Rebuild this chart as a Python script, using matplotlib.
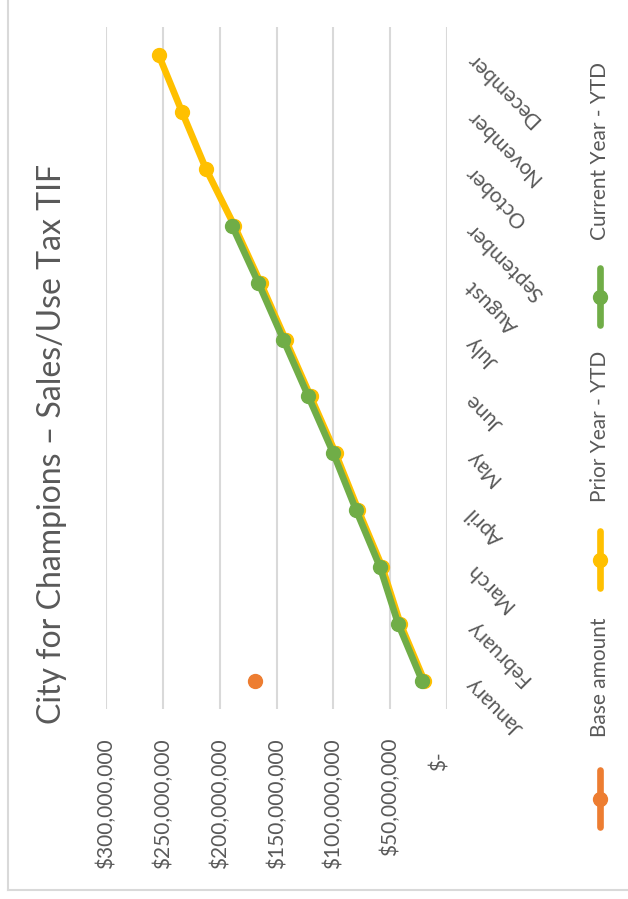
import numpy as np
import matplotlib.pyplot as plt
from matplotlib.lines import Line2D
from matplotlib.transforms import blended_transform_factory, offset_copy

plt.rcParams['font.family'] = ['Lato', 'DejaVu Sans']

# Sales/use tax collections, cumulative year to date
months = ['January', 'February', 'March', 'April', 'May', 'June', 'July',
          'August', 'September', 'October', 'November', 'December']
current_ytd = [22e6, 43e6, 59e6, 80e6, 100e6, 122e6, 144e6, 166e6, 189e6]
prior_ytd = [20e6, 41e6, 57e6, 78e6, 98e6, 120e6, 142e6, 164e6, 187e6,
             212e6, 233e6, 253.5e6]
base_month = 'January'
base_amount = 169e6

value_ticks = [0, 50e6, 100e6, 150e6, 200e6, 250e6, 300e6]
value_labels = ['$-', '$50,000,000', '$100,000,000', '$150,000,000',
                '$200,000,000', '$250,000,000', '$300,000,000']

title = 'City for Champions \u2013 Sales/Use Tax TIF'
text_color = '#595959'
grid_color = '#D9D9D9'

W, H = 628, 899
fig = plt.figure(figsize=(W / 100, H / 100), dpi=100)


def fx(x):
    return x / W


def fy(y):
    return 1 - y / H


# chart is laid out sideways: values run right-to-left, months bottom-to-top
ax = fig.add_axes([fx(106), fy(709), fx(447) - fx(106), fy(27) - fy(709)])
ax.set_xlim(300e6, 0)
ax.set_ylim(-0.5, len(months) - 0.5)
ax.set_xticks([])
ax.set_yticks([])
for s in ax.spines.values():
    s.set_visible(False)
for v in value_ticks:
    ax.axvline(v, color=grid_color, lw=1.5, zorder=0)

pos = np.arange(len(months))
series = [
    ('Base amount', [months.index(base_month)], [base_amount], '#ED7D31'),
    ('Prior Year - YTD', pos, prior_ytd, '#FFC000'),
    ('Current Year - YTD', pos[:len(current_ytd)], current_ytd, '#70AD47'),
]
for name, p, vals, col in series:
    ax.plot(vals, p, color=col, lw=4.8, marker='o', ms=10,
            solid_capstyle='round', solid_joinstyle='round', zorder=3)

# value labels below the plot, rotated
tr_x = blended_transform_factory(ax.transData, ax.transAxes)
for v, lab in zip(value_ticks, value_labels):
    dx, dy = (-7, -42) if v == 0 else (0, -29)
    ax.text(v, 0, lab, transform=offset_copy(tr_x, fig, x=dx, y=dy, units='dots'),
            rotation=90, ha='center', va='top', fontsize=15, color=text_color)

# month labels on the right, slanted
tr_y = blended_transform_factory(ax.transAxes, ax.transData)
for i, m in enumerate(months):
    ax.text(1, i, m, transform=offset_copy(tr_y, fig, x=22, y=0, units='dots'),
            rotation=135, rotation_mode='anchor', ha='right', va='center',
            fontsize=15, color=text_color)

fig.text(fx(52), fy(444), title, rotation=90, ha='center', va='center',
         fontsize=23, color=text_color)

# legend, stacked bottom-to-top
legend_slots = [(827, 737), (588, 502), (325, 240)]
for (name, p, vals, col), (mk_bottom, txt_bottom) in zip(series, legend_slots):
    x = fx(600)
    fig.add_artist(Line2D([x, x], [fy(mk_bottom), fy(mk_bottom - 57)],
                          transform=fig.transFigure, color=col, lw=4.8,
                          solid_capstyle='round'))
    fig.add_artist(Line2D([x], [fy(mk_bottom - 28.5)], transform=fig.transFigure,
                          color=col, marker='o', ms=10, lw=0))
    fig.text(x, fy(txt_bottom), name, rotation=90, ha='center', va='bottom',
             fontsize=15, color=text_color)

# chart area border
fig.add_artist(Line2D([fx(8), fx(8)], [fy(0), fy(890)], transform=fig.transFigure,
                      color=grid_color, lw=1.5))
fig.add_artist(Line2D([fx(8), fx(W)], [fy(890), fy(890)], transform=fig.transFigure,
                      color=grid_color, lw=1.5))

fig.savefig('out.png', dpi=100)
